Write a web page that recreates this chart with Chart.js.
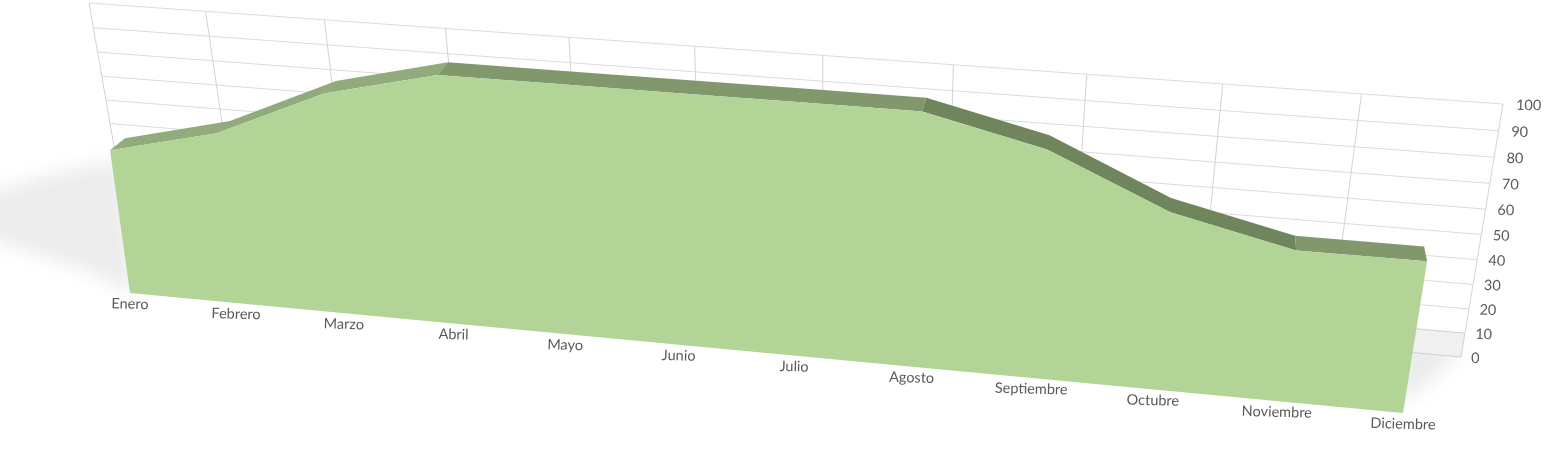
<!DOCTYPE html>
<html>
<head>
<meta charset="utf-8">
<title>Area 3D</title>
<script src="https://cdn.jsdelivr.net/npm/chart.js@4"></script>
<style>
  html, body { margin: 0; padding: 0; background: #fff; }
  canvas { display: block; }
</style>
</head>
<body>
<canvas id="chart" width="1548" height="452"></canvas>
<script>
const categories = ['Enero', 'Febrero', 'Marzo', 'Abril', 'Mayo', 'Junio', 'Julio', 'Agosto', 'Septiembre', 'Octubre', 'Noviembre', 'Diciembre'];
const seriesValues = [51.5, 60.5, 77, 86, 86, 86, 86, 86, 77, 60, 51, 51];
const yTicks = [0, 10, 20, 30, 40, 50, 60, 70, 80, 90, 100];

// corners of each plane on screen: bottom-left, bottom-right, top-right, top-left
const frontCorners = [[130, 293], [1403, 413], [1452, 105], [90, 7]];
const depthCorners = [[145, 281], [1400, 398], [1449, 90], [105, -5]];
const wallCorners = [[130, 237.5], [1461, 357], [1503, 104], [89, 3]];

// unit square to quad, the usual projective mapping
function planeMap(q) {
  const [p0, p1, p2, p3] = q;
  const sx = p0[0] - p1[0] + p2[0] - p3[0];
  const sy = p0[1] - p1[1] + p2[1] - p3[1];
  const dx1 = p1[0] - p2[0], dx2 = p3[0] - p2[0];
  const dy1 = p1[1] - p2[1], dy2 = p3[1] - p2[1];
  const den = dx1 * dy2 - dx2 * dy1;
  const g = (sx * dy2 - dx2 * sy) / den;
  const h = (dx1 * sy - sx * dy1) / den;
  const a = p1[0] - p0[0] + g * p1[0], b = p3[0] - p0[0] + h * p3[0];
  const d = p1[1] - p0[1] + g * p1[1], e = p3[1] - p0[1] + h * p3[1];
  return (u, v) => {
    const w = g * u + h * v + 1;
    return { x: (a * u + b * v + p0[0]) / w, y: (d * u + e * v + p0[1]) / w };
  };
}

const front = planeMap(frontCorners);
const depth = planeMap(depthCorners);
const wall = planeMap(wallCorners);

function polygon(ctx, pts, color) {
  ctx.beginPath();
  pts.forEach((p, i) => i ? ctx.lineTo(p.x, p.y) : ctx.moveTo(p.x, p.y));
  ctx.closePath();
  ctx.fillStyle = color;
  ctx.fill();
}

function strokeLine(ctx, a, b, color) {
  ctx.beginPath();
  ctx.moveTo(a.x, a.y);
  ctx.lineTo(b.x, b.y);
  ctx.strokeStyle = color;
  ctx.lineWidth = 1;
  ctx.stroke();
}

function rotatedText(ctx, text, x, y, align) {
  ctx.save();
  ctx.translate(x, y);
  ctx.rotate(1.5 * Math.PI / 180);
  ctx.textAlign = align;
  ctx.textBaseline = 'middle';
  ctx.fillText(text, 0, 0);
  ctx.restore();
}

// lighter going up, darker going down
function ribbonColor(delta) {
  if (delta > 2) return '#92ab7c';
  if (delta < -2) return '#6f855b';
  return '#80986c';
}

const perspective = {
  id: 'perspective',
  // puts the line points where the tilted front plane has them
  afterDatasetsUpdate(chart) {
    const area = chart.chartArea;
    const meta = chart.getDatasetMeta(0);
    meta.data.forEach((pt, i) => {
      const u = (chart.scales.x.getPixelForValue(i) - area.left) / area.width;
      const v = (area.bottom - chart.scales.y.getPixelForValue(seriesValues[i])) / area.height;
      const p = front(u, v);
      pt.x = p.x;
      pt.y = p.y;
      pt.$back = depth(u, v);
    });
  },
  beforeDatasetsDraw(chart) {
    const ctx = chart.ctx;
    const area = chart.chartArea;
    const xs = chart.scales.x, ys = chart.scales.y;
    const uOf = i => (xs.getPixelForValue(i) - area.left) / area.width;
    const vOf = val => (area.bottom - ys.getPixelForValue(val)) / area.height;
    const pts = chart.getDatasetMeta(0).data;

    // soft shadows
    ctx.save();
    ctx.filter = 'blur(9px)';
    polygon(ctx, [{x: -30, y: 200}, {x: 60, y: 172}, {x: 120, y: 160}, {x: 135, y: 295}, {x: 90, y: 272}, {x: -30, y: 232}], '#ececec');
    polygon(ctx, [{x: 1400, y: 340}, {x: 1458, y: 346}, {x: 1452, y: 360}, {x: 1400, y: 406}], '#ebebeb');
    ctx.restore();
    polygon(ctx, [wall(0.9, vOf(10)), wall(1, vOf(10)), wall(1, 0), wall(0.9, 0)], '#f0f0f0');

    // back wall grid
    ys.ticks.forEach(t => {
      strokeLine(ctx, wall(0, vOf(t.value)), wall(1, vOf(t.value)), t.value === 0 || t.value === 10 ? '#cfcfcf' : '#dcdcdc');
    });
    categories.forEach((c, i) => {
      strokeLine(ctx, wall(uOf(i), 0), wall(uOf(i), 1), '#d2d2d2');
    });

    // top ribbon, months with the same shade go in one polygon so no seams show
    let start = 0;
    for (let i = 0; i < pts.length - 1; i++) {
      const color = ribbonColor(seriesValues[i + 1] - seriesValues[i]);
      const next = i + 2 < pts.length ? ribbonColor(seriesValues[i + 2] - seriesValues[i + 1]) : null;
      if (color !== next) {
        const run = pts.slice(start, i + 2);
        polygon(ctx, [...run, ...run.map(p => p.$back).reverse()], color);
        start = i + 1;
      }
    }

    // front face
    const face = [front(0, 0), ...pts.map(p => ({x: p.x, y: p.y})), front(1, 0)];
    polygon(ctx, face, '#b2d497');

    // tick labels
    ctx.font = '14.5px Lato';
    ctx.fillStyle = '#5a5a5a';
    xs.ticks.forEach((t, i) => {
      const p = front(uOf(i), 0);
      rotatedText(ctx, t.label, p.x, p.y + 11, 'center');
    });
    ys.ticks.forEach(t => {
      const p = wall(1, vOf(t.value));
      rotatedText(ctx, t.label, p.x + 10 + t.value * 0.03, p.y + 1, 'left');
    });
  }
};

new Chart(document.getElementById('chart'), {
  type: 'line',
  data: {
    labels: categories,
    datasets: [{
      label: 'Serie',
      data: seriesValues,
      borderWidth: 0,
      pointRadius: 0,
      fill: false
    }]
  },
  options: {
    responsive: false,
    animation: false,
    events: [],
    layout: { padding: 0 },
    plugins: { legend: { display: false }, tooltip: { enabled: false } },
    scales: {
      x: { display: false, ticks: { autoSkip: false } },
      y: {
        display: false,
        min: yTicks[0],
        max: yTicks[yTicks.length - 1],
        ticks: { stepSize: yTicks[1] - yTicks[0] }
      }
    }
  },
  plugins: [perspective]
});
</script>
</body>
</html>
